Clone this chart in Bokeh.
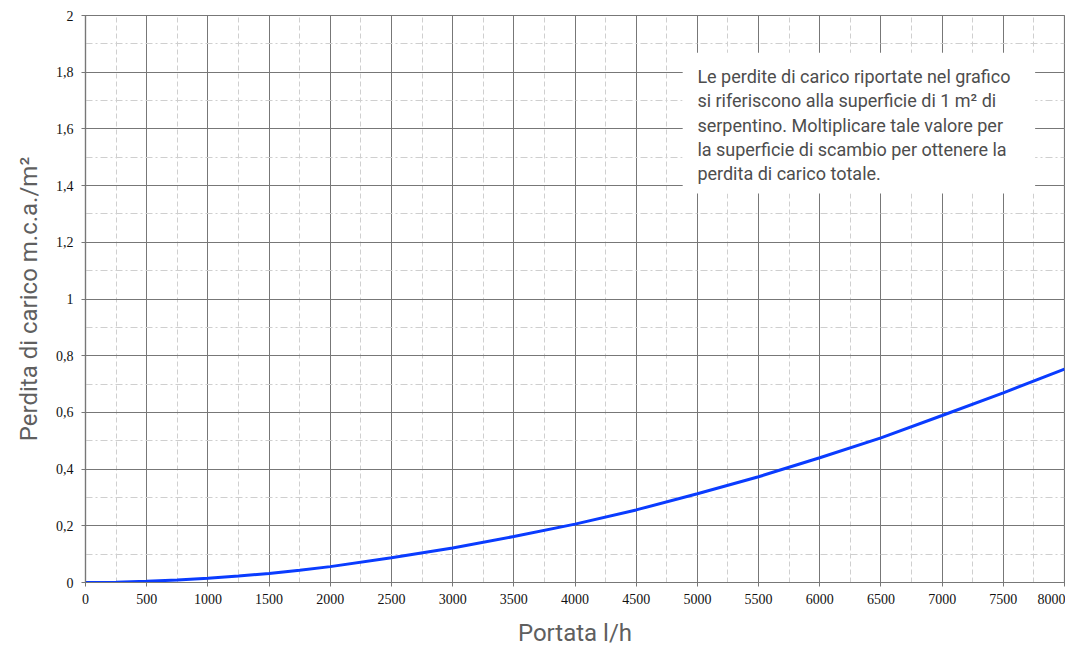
from bokeh.plotting import figure
from bokeh.embed import file_html
from bokeh.resources import INLINE
from bokeh.models import FixedTicker, CustomJSTickFormatter, BoxAnnotation, Label

# Data
portata = [0, 250, 500, 750, 1000, 1250, 1500, 1750, 2000, 2500, 3000, 3500, 4000,
           4500, 5000, 5500, 6000, 6500, 7000, 7500, 8000]
perdita = [0.0, 0.001, 0.004, 0.009, 0.015, 0.023, 0.032, 0.043, 0.056, 0.087, 0.122,
           0.162, 0.206, 0.256, 0.313, 0.373, 0.440, 0.510, 0.589, 0.669, 0.753]

x_ticks = list(range(0, 8001, 500))
y_ticks = [0, 0.2, 0.4, 0.6, 0.8, 1.0, 1.2, 1.4, 1.6, 1.8, 2.0]

note_lines = [
    "Le perdite di carico riportate nel grafico",
    "si riferiscono alla superficie di 1 m² di",
    "serpentino. Moltiplicare tale valore per",
    "la superficie di scambio per ottenere la",
    "perdita di carico totale.",
]

p = figure(frame_width=979, frame_height=567, x_range=(0, 8000), y_range=(0, 2),
           output_backend="svg", toolbar_location=None,
           min_border_left=85, min_border_right=1, min_border_top=15, min_border_bottom=67)
p.background_fill_color = "white"
p.border_fill_color = "white"
p.outline_line_color = "#777777"
p.outline_line_width = 1.2

# Axes
p.xaxis.ticker = FixedTicker(ticks=x_ticks, minor_ticks=list(range(0, 8001, 250)))
p.yaxis.ticker = FixedTicker(ticks=y_ticks, minor_ticks=[i / 10 for i in range(21)])
p.yaxis.formatter = CustomJSTickFormatter(
    code="return (Math.round(tick*10)/10).toString().replace('.', ',');")

for ax in (p.xaxis, p.yaxis):
    ax.axis_line_color = "#777777"
    ax.axis_line_width = 1.2
    ax.major_tick_line_color = "#777777"
    ax.major_tick_out = 4
    ax.major_tick_in = 0
    ax.minor_tick_out = 0
    ax.minor_tick_in = 0
    ax.major_label_text_font = "'Liberation Serif', 'Times New Roman', serif"
    ax.major_label_text_font_size = "14px"
    ax.major_label_text_color = "#111111"
    ax.axis_label_text_font = "Roboto"
    ax.axis_label_text_font_style = "normal"
    ax.axis_label_text_font_size = "24px"
    ax.axis_label_text_color = "#5f5f5f"

p.xaxis.axis_label = "Portata l/h"
p.yaxis.axis_label = "Perdita di carico m.c.a./m²"
p.xaxis.major_label_standoff = 7
p.xaxis.axis_label_standoff = 12
p.yaxis.major_label_standoff = 8
p.yaxis.axis_label_standoff = 10

# Grids
p.xgrid.grid_line_color = "#777777"
p.ygrid.grid_line_color = "#777777"
p.xgrid.grid_line_width = 1
p.ygrid.grid_line_width = 1
p.xgrid.minor_grid_line_color = "#cfcfcf"
p.xgrid.minor_grid_line_dash = "5 3"
p.ygrid.minor_grid_line_color = "#cfcfcf"
p.ygrid.minor_grid_line_dash = "7 3 2 3"

# Curve
p.line(portata, perdita, line_color="#0a3cff", line_width=3)

# Note box
box = BoxAnnotation(left=4880, right=7760, bottom=1.372, top=1.869,
                    fill_color="white", fill_alpha=1.0, line_color=None, level="underlay")
p.add_layout(box)

line_y = [1.785, 1.700, 1.612, 1.527, 1.443]
for txt, yy in zip(note_lines, line_y):
    p.add_layout(Label(x=5000, y=yy, text=txt, text_font="Roboto",
                       text_font_size="18px", text_color="#4d4d4d",
                       text_baseline="middle", text_align="left", level="overlay"))

open("out.html", "w").write(file_html(p, INLINE))
